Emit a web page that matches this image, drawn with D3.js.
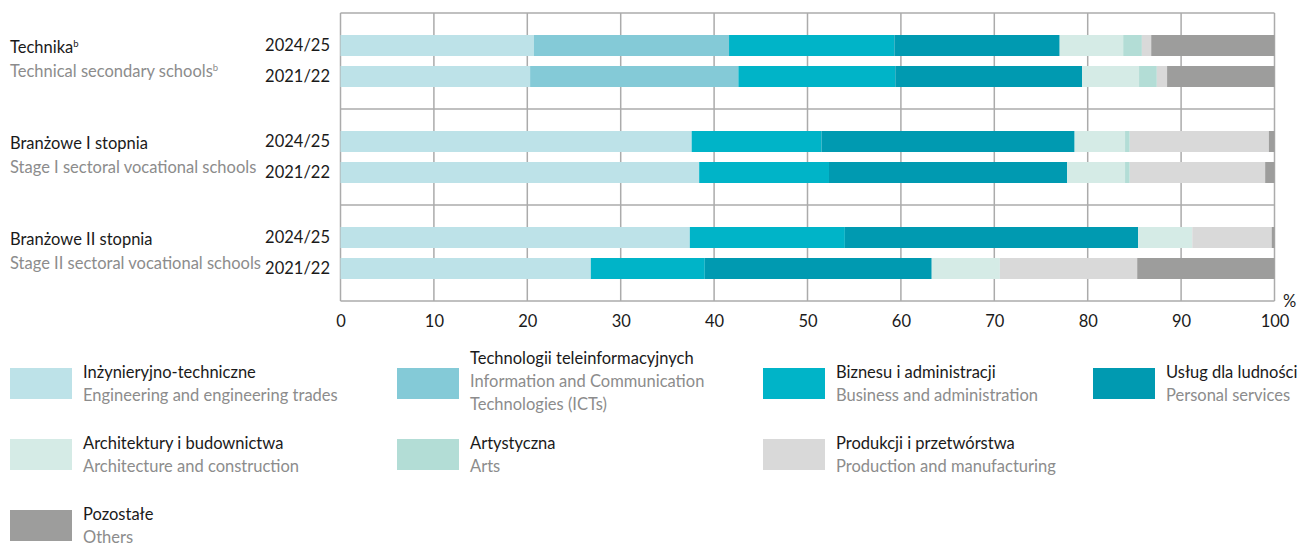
<!DOCTYPE html>
<html>
<head>
<meta charset="utf-8">
<script src="https://cdn.jsdelivr.net/npm/d3@7"></script>
<style>
  body { margin: 0; background: #fff; }
  svg { font-family: Lato, "Open Sans", sans-serif; }
</style>
</head>
<body>
<div id="chart"></div>
<script>

// fields of education (legend order = stack order)
var fieldsPl = ["Inżynieryjno-techniczne", "Technologii teleinformacyjnych", "Biznesu i administracji",
  "Usług dla ludności", "Architektury i budownictwa", "Artystyczna", "Produkcji i przetwórstwa", "Pozostałe"];
var fieldsEn = [["Engineering and engineering trades"], ["Information and Communication", "Technologies (ICTs)"],
  ["Business and administration"], ["Personal services"], ["Architecture and construction"], ["Arts"],
  ["Production and manufacturing"], ["Others"]];
var colors = ["#bde2e8", "#84cad7", "#00b4c8", "#009ab1", "#d5ebe6", "#b3ddd6", "#d9d9d9", "#9d9d9c"];

var groupsPl = ["Technika", "Branżowe I stopnia", "Branżowe II stopnia"];
var groupsEn = ["Technical secondary schools", "Stage I sectoral vocational schools", "Stage II sectoral vocational schools"];
var years = ["2024/25", "2021/22"];

// % shares, one array per school type and year, in fields order
var technika2425 = [20.7, 20.9, 17.7, 17.7, 6.8, 2.0, 1.0, 13.2];
var technika2122 = [20.3, 22.3, 16.8, 20.0, 6.1, 1.9, 1.1, 11.5];
var branzI2425   = [37.6, 0, 13.9, 27.1, 5.4, 0.5, 14.9, 0.6];
var branzI2122   = [38.4, 0, 13.9, 25.5, 6.2, 0.5, 14.5, 1.0];
var branzII2425  = [37.4, 0, 16.6, 31.4, 5.8, 0, 8.5, 0.3];
var branzII2122  = [26.8, 0, 12.2, 24.3, 7.3, 0, 14.7, 14.7];

var xTicks = [0, 10, 20, 30, 40, 50, 60, 70, 80, 90, 100];

(function() {

var rows = [
  { group: groupsPl[0], year: years[0], values: technika2425 },
  { group: groupsPl[0], year: years[1], values: technika2122 },
  { group: groupsPl[1], year: years[0], values: branzI2425 },
  { group: groupsPl[1], year: years[1], values: branzI2122 },
  { group: groupsPl[2], year: years[0], values: branzII2425 },
  { group: groupsPl[2], year: years[1], values: branzII2122 }
];

var W = 1297, H = 544;
var mLeft = 340.5, mRight = 1274.5, mTop = 13, mBottom = 301;
var fs = 16.5;
var grey = "#8c8c8c", ink = "#1a1a1a", gridColor = "#ababab";

var svg = d3.select("#chart").append("svg")
    .attr("width", W)
    .attr("height", H);

var x = d3.scaleLinear().domain([0, 100]).range([mLeft, mRight]);
var yGroup = d3.scaleBand().domain(groupsPl).range([mTop, mBottom]);
var yYear = d3.scaleBand().domain(years).range([0, yGroup.bandwidth()])
    .paddingInner(10 / 31).paddingOuter(22 / 31);

// grid
svg.append("g").selectAll("line")
  .data(xTicks)
  .enter().append("line")
    .attr("x1", function(d) { return x(d); })
    .attr("x2", function(d) { return x(d); })
    .attr("y1", mTop).attr("y2", mBottom)
    .attr("stroke", gridColor)
    .attr("stroke-width", 1.5);

svg.append("g").selectAll("line")
  .data(groupsPl)
  .enter().append("line")
    .attr("x1", mLeft).attr("x2", mRight)
    .attr("y1", function(d) { return yGroup(d); })
    .attr("y2", function(d) { return yGroup(d); })
    .attr("stroke", gridColor)
    .attr("stroke-width", 1.5);

svg.append("line")
    .attr("x1", mLeft).attr("x2", mRight)
    .attr("y1", mBottom).attr("y2", mBottom)
    .attr("stroke", gridColor)
    .attr("stroke-width", 1.5);

// stacked bars
var stack = d3.stack().keys(d3.range(fieldsPl.length))
    .value(function(d, k) { return d.values[k]; });
var series = stack(rows);

svg.append("g").selectAll("g")
  .data(series)
  .enter().append("g")
    .attr("fill", function(d) { return colors[d.key]; })
  .selectAll("rect")
  .data(function(d) { return d; })
  .enter().append("rect")
    .attr("x", function(d) { return x(d[0]); })
    .attr("width", function(d) { return Math.max(0, x(d[1]) - x(d[0])); })
    .attr("y", function(d) { return yGroup(d.data.group) + yYear(d.data.year); })
    .attr("height", yYear.bandwidth());

// x axis labels
var xAxis = svg.append("g")
    .attr("transform", "translate(0," + mBottom + ")")
    .call(d3.axisBottom(x).tickValues(xTicks).tickSize(0).tickPadding(14));
xAxis.select(".domain").remove();
xAxis.selectAll("text")
    .attr("font-family", "Lato, 'Open Sans', sans-serif")
    .attr("font-size", fs)
    .attr("fill", ink);

svg.append("text")
    .attr("x", 1283).attr("y", 307)
    .attr("font-size", fs)
    .attr("fill", ink)
    .text("%");

// year labels
rows.forEach(function(r) {
  svg.append("text")
      .attr("x", 330)
      .attr("y", yGroup(r.group) + yYear(r.year) + yYear.bandwidth() / 2)
      .attr("dy", "0.35em")
      .attr("text-anchor", "end")
      .attr("font-size", fs)
      .attr("fill", ink)
      .text(r.year);
});

// group labels
groupsPl.forEach(function(g, i) {
  var t = svg.append("text")
      .attr("x", 10)
      .attr("y", yGroup(g) + 40)
      .attr("font-size", fs)
      .attr("fill", ink)
      .text(g);
  var e = svg.append("text")
      .attr("x", 10)
      .attr("y", yGroup(g) + 64)
      .attr("font-size", fs)
      .attr("fill", grey)
      .text(groupsEn[i]);
  if (i == 0) {
    t.append("tspan").attr("font-size", 9.5).attr("dy", -6).text("b");
    e.append("tspan").attr("font-size", 9.5).attr("dy", -6).text("b");
  }
});

// legend: 4 + 3 + 1 items per row
var colX = [10, 397, 763, 1093];
var rowY = [368, 439, 510];

fieldsPl.forEach(function(f, i) {
  var r = i < 4 ? 0 : (i < 7 ? 1 : 2);
  var c = i < 4 ? i : (i < 7 ? i - 4 : 0);
  var cx = colX[c], ty = rowY[r];
  var lines = fieldsEn[i];
  var base = lines.length > 1 ? ty - 4 : ty + 10;
  svg.append("rect")
      .attr("x", cx).attr("y", ty)
      .attr("width", 62).attr("height", 31)
      .attr("fill", colors[i]);
  svg.append("text")
      .attr("x", cx + 73).attr("y", base)
      .attr("font-size", fs)
      .attr("fill", ink)
      .text(f);
  lines.forEach(function(l, j) {
    svg.append("text")
        .attr("x", cx + 73).attr("y", base + 23 * (j + 1))
        .attr("font-size", fs)
        .attr("fill", grey)
        .text(l);
  });
});

})();

</script>
</body>
</html>
